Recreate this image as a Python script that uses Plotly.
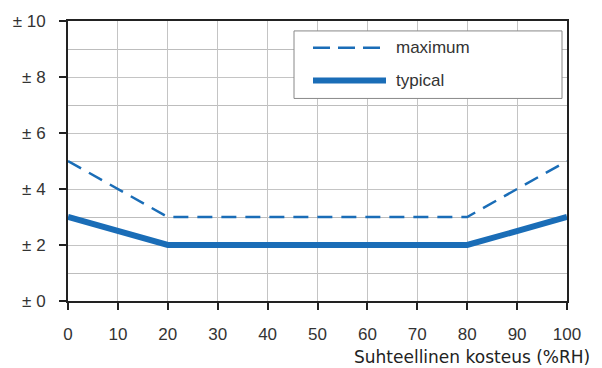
import plotly.graph_objects as go

rh = [0, 20, 80, 100]
maximum = [5, 3, 3, 5]
typical = [3, 2, 2, 3]
ytick_vals = [0, 2, 4, 6, 8, 10]
ytick_text = ["± 0", "± 2", "± 4", "± 6", "± 8", "± 10"]
xtick_vals = list(range(0, 101, 10))

BLUE = "#1a6db7"
FONT = "Liberation Sans, Arial"
L, R, T, B = 68, 35, 19, 67
W, H = 602, 368
pw, ph = W - L - R, H - T - B

def px(x):
    return (x - L) / pw

def py(y):
    return (H - B - y) / ph

fig = go.Figure()
fig.add_trace(go.Scatter(x=rh, y=maximum, mode="lines", name="maximum",
                         line=dict(color=BLUE, width=2.5, dash="15px,9px"), showlegend=False))
fig.add_trace(go.Scatter(x=rh, y=typical, mode="lines", name="typical",
                         line=dict(color=BLUE, width=6), showlegend=False))

fig.update_layout(
    width=W, height=H, margin=dict(l=L, r=R, t=T, b=B),
    paper_bgcolor="white", plot_bgcolor="white",
    font=dict(family=FONT, color="#222"),
    xaxis=dict(range=[0, 100], tickvals=xtick_vals, ticks="outside", ticklen=7,
               tickcolor="#222", tickwidth=2, tickfont=dict(size=17, color="#333"),
               ticklabelstandoff=10,
               showgrid=True, gridcolor="#c4c4c4", gridwidth=1,
               showline=True, linecolor="#222", linewidth=2, mirror=True,
               zeroline=False, fixedrange=True),
    yaxis=dict(range=[0, 10], tickvals=ytick_vals, ticktext=ytick_text, ticks="outside",
               ticklen=7, tickcolor="#222", tickwidth=1.5, tickfont=dict(size=17, color="#333"),
               ticklabelstandoff=10,
               showgrid=True, gridcolor="#c4c4c4", gridwidth=1,
               minor=dict(dtick=1, showgrid=True, gridcolor="#bdbdbd", gridwidth=1),
               showline=True, linecolor="#222", linewidth=2, mirror=True,
               zeroline=False, fixedrange=True),
    showlegend=False,
)

# manual legend
fig.add_shape(type="rect", xref="paper", yref="paper",
              x0=px(294), x1=px(562), y0=py(97), y1=py(29),
              line=dict(color="#888", width=1), fillcolor="white", layer="above")
fig.add_shape(type="line", xref="paper", yref="paper",
              x0=px(313), x1=px(380), y0=py(46), y1=py(46),
              line=dict(color=BLUE, width=2.5, dash="17px,8px"), layer="above")
fig.add_shape(type="line", xref="paper", yref="paper",
              x0=px(313), x1=px(386), y0=py(79), y1=py(79),
              line=dict(color=BLUE, width=6), layer="above")
fig.add_annotation(xref="paper", yref="paper", x=px(394), y=py(46), text="maximum",
                   showarrow=False, xanchor="left", yanchor="middle",
                   font=dict(size=17, color="#333"))
fig.add_annotation(xref="paper", yref="paper", x=px(394), y=py(79), text="typical",
                   showarrow=False, xanchor="left", yanchor="middle",
                   font=dict(size=17, color="#333"))

fig.add_annotation(xref="paper", yref="paper", x=px(591), y=py(368),
                   text="Suhteellinen kosteus (%RH)", showarrow=False,
                   xanchor="right", yanchor="bottom", borderpad=0,
                   font=dict(family="DejaVu Sans", size=17, color="#222"))

fig.write_html("out.html", config={"displayModeBar": False},
               post_script="document.body.style.margin='0px';")
